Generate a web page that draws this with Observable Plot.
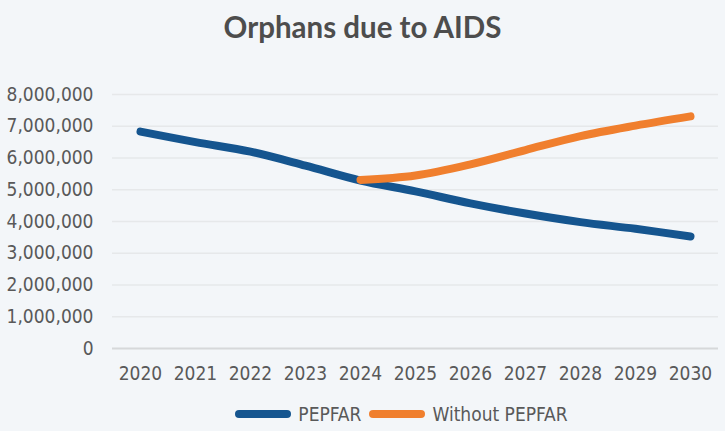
<!DOCTYPE html>
<html>
<head>
<meta charset="utf-8">
<script src="https://cdn.jsdelivr.net/npm/d3@7"></script>
<script src="https://cdn.jsdelivr.net/npm/@observablehq/plot@0.6"></script>
<style>
  html, body { margin: 0; padding: 0; background: #f3f6f9; }
  body { width: 725px; height: 431px; overflow: hidden; }
  #title { height: 60px; line-height: 54px; text-align: center; font-family: Lato, "Open Sans", sans-serif; font-weight: 700; font-size: 29.5px; color: #4d4d4d; }
  #chart svg { display: block; }
  #legend { display: flex; justify-content: center; align-items: center; gap: 8px; font-family: "Liberation Sans Narrow", "DejaVu Sans Condensed", sans-serif; font-size: 19px; color: #595959; margin-left: 78px; margin-top: 8px; }
  #legend .item { display: flex; align-items: center; gap: 7px; }
</style>
</head>
<body>
<div id="title">Orphans due to AIDS</div>
<div id="chart"></div>
<div id="legend"></div>
<script>
const years = [2020, 2021, 2022, 2023, 2024, 2025, 2026, 2027, 2028, 2029, 2030];
const pepfar = [6830000, 6500000, 6200000, 5760000, 5290000, 4950000, 4570000, 4250000, 3980000, 3770000, 3530000];
const withoutYears = [2024, 2025, 2026, 2027, 2028, 2029, 2030];
const withoutPepfar = [5310000, 5450000, 5800000, 6250000, 6690000, 7020000, 7310000];
const yTicks = [0, 1000000, 2000000, 3000000, 4000000, 5000000, 6000000, 7000000, 8000000];
const seriesNames = ["PEPFAR", "Without PEPFAR"];
const seriesColors = ["#15558f", "#f07f2e"];

const rows = [
  ...years.map((y, i) => ({year: String(y), value: pepfar[i], series: seriesNames[0]})),
  ...withoutYears.map((y, i) => ({year: String(y), value: withoutPepfar[i], series: seriesNames[1]}))
];

const fmt = d3.format(",");
const chart = Plot.plot({
  width: 725,
  height: 335,
  marginTop: 34,
  marginBottom: 47,
  marginLeft: 112,
  marginRight: 7,
  style: { background: "transparent", fontFamily: "'Liberation Sans Narrow', 'DejaVu Sans Condensed', sans-serif", fontSize: "19px", color: "#595959" },
  x: { type: "point", domain: years.map(String), padding: 0.5, label: null, tickSize: 0, tickPadding: 18 },
  y: { domain: [0, 8000000], ticks: yTicks, tickFormat: fmt, label: null, tickSize: 0, tickPadding: 19 },
  color: { domain: seriesNames, range: seriesColors },
  marks: [
    Plot.gridY(yTicks.filter(d => d > 0), { stroke: "#e6e8ea", strokeOpacity: 1, strokeWidth: 1.5 }),
    Plot.ruleY([0], { stroke: "#d6d8da", strokeWidth: 2 }),
    Plot.lineY(rows, { x: "year", y: "value", z: "series", stroke: "series", strokeWidth: 8, strokeLinecap: "round", strokeLinejoin: "round", curve: "catmull-rom" })
  ]
});
document.getElementById("chart").appendChild(chart);

const legend = document.getElementById("legend");
seriesNames.forEach((name, i) => {
  const item = document.createElement("div");
  item.className = "item";
  item.innerHTML = `<svg width="56" height="10"><line x1="4" y1="5" x2="52" y2="5" stroke="${seriesColors[i]}" stroke-width="8" stroke-linecap="round"/></svg><span>${name}</span>`;
  legend.appendChild(item);
});
</script>
</body>
</html>
